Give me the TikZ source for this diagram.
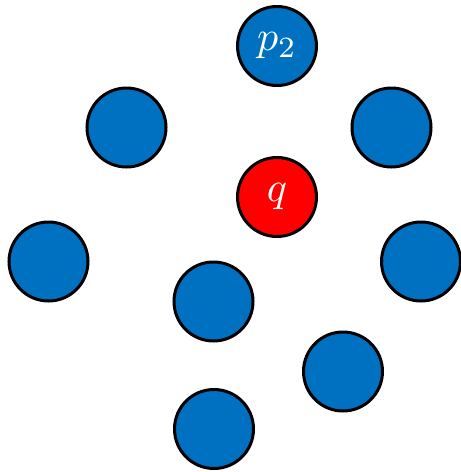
\documentclass[tikz,border=0pt]{standalone}
\usepackage{amsmath}
\usepackage{graphicx}
\usepackage{xcolor}
\usepackage{tikz}
\usetikzlibrary{positioning}
\definecolor{pointblue}{HTML}{0070C0}
\definecolor{queryred}{HTML}{FF0000}
\newcommand{\bigsym}[1]{\scalebox{4.2}{$#1$}}
\tikzset{
    % Point styles
    point/.style={circle, draw=black, line width=3pt, minimum size=79pt,
                  inner sep=0pt, fill=pointblue, text=white},
    query point/.style={point, fill=queryred},
}

\begin{document}
\begin{tikzpicture}[x=1pt, y=-1pt]
    \useasboundingbox (0,0) rectangle (461,472);

    % Query point
    \node[query point] (q) at (277,197) {\bigsym{q}};

    % Neighbouring points
    \node[point] (p2) at (277,46) {\bigsym{p_2}};
    \node[point] (tl) at (126.5,127.5) {};
    \node[point] (tr) at (391.5,127.5) {};
    \node[point] (l) at (48.5,261.5) {};
    \node[point] (r) at (421,261.5) {};
    \node[point] (c) at (213.5,301.5) {};
    \node[point] (lr) at (343,371.5) {};
    \node[point] (b) at (214,429) {};
\end{tikzpicture}
\end{document}
